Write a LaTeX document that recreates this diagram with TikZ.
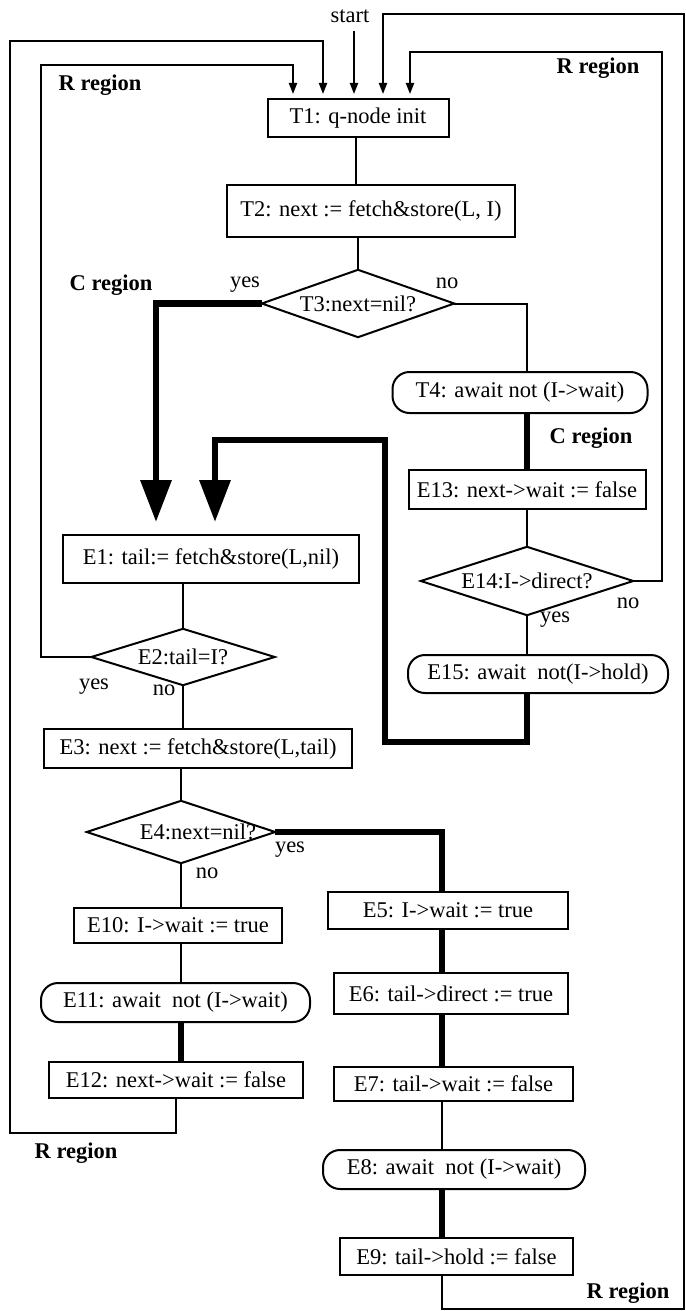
\documentclass[tikz,border=0pt]{standalone}
\usepackage{fontspec}
\setmainfont{Liberation Serif}
\usetikzlibrary{arrows.meta}
\begin{document}
\begin{tikzpicture}[x=1pt,y=-1pt,
  every node/.style={font=\fontsize{22.5}{27}\selectfont, inner sep=0pt},
  box/.style={draw, line width=2pt, rectangle},
  pill/.style={draw, line width=2pt, rectangle, rounded corners=17pt},
  cond/.style={rectangle},
  outline/.style={line width=2pt, line join=miter},
  reg/.style={font=\fontsize{22.5}{27}\selectfont\bfseries},
  link/.style={line width=2pt},
  flow/.style={line width=6.5pt, line join=miter},
  tip/.style={-{Triangle[length=11pt,width=8pt]}},
  bigtip/.style={-{Triangle[length=42pt,width=30pt]}},
]
\useasboundingbox (0,0) rectangle (685,1311);

% column spines
\coordinate (cl) at (181,0);
\coordinate (cm) at (356,0);
\coordinate (cr) at (527,0);
\coordinate (cs) at (442,0);

% thread part
\node[box, minimum width=181pt, minimum height=38pt] (T1) at (358,118) {T1: q-node init};
\node[box, minimum width=288pt, minimum height=52pt] (T2) at (371,211) {T2: next := fetch\&store(L, I)};
\node[cond, minimum width=192pt, minimum height=67pt] (T3) at (358,303.5) {T3:next=nil?};
\draw[outline] (T3.west) -- (T3.north) -- (T3.east) -- (T3.south) -- cycle;
\node[pill, minimum width=255pt, minimum height=41pt] (T4) at (520,392.5) {T4: await not (I->wait)};
\node[box, minimum width=237pt, minimum height=39pt] (E13) at (527,489.5) {E13: next->wait := false};
\node[cond, minimum width=212pt, minimum height=68pt] (E14) at (527,581) {E14:I->direct?};
\draw[outline] (E14.west) -- (E14.north) -- (E14.east) -- (E14.south) -- cycle;
\node[pill, minimum width=260pt, minimum height=38pt] (E15) at (538,674) {E15: await\ \ not(I->hold)};

% left column
\node[box, minimum width=296pt, minimum height=48pt] (E1) at (211,559) {E1: tail:= fetch\&store(L,nil)};
\node[cond, minimum width=183pt, minimum height=56pt] (E2) at (183,657) {E2:tail=I?};
\draw[outline] (E2.west) -- (E2.north) -- (E2.east) -- (E2.south) -- cycle;
\node[box, minimum width=308pt, minimum height=39pt] (E3) at (198,748.5) {E3: next := fetch\&store(L,tail)};
\node[cond, minimum width=188pt, minimum height=62pt] (E4) at (181,832) {\hspace*{34pt}E4:next=nil?};
\draw[outline] (E4.west) -- (E4.north) -- (E4.east) -- (E4.south) -- cycle;
\node[box, minimum width=208pt, minimum height=35pt] (E10) at (178,925.5) {E10: I->wait := true};
\node[pill, minimum width=269pt, minimum height=39pt] (E11) at (175.5,1002.5) {E11: await\ \ not (I->wait)};
\node[box, minimum width=254pt, minimum height=36pt] (E12) at (176,1080) {E12: next->wait := false};

% right column
\node[box, minimum width=240pt, minimum height=37pt] (E5) at (448,910.5) {E5: I->wait := true};
\node[box, minimum width=234pt, minimum height=41pt] (E6) at (451,993.5) {E6: tail->direct := true};
\node[box, minimum width=239pt, minimum height=34pt] (E7) at (453.5,1084) {E7: tail->wait := false};
\node[pill, minimum width=262pt, minimum height=39pt] (E8) at (454,1169.5) {E8: await\ \ not (I->wait)};
\node[box, minimum width=233pt, minimum height=37pt] (E9) at (456.5,1256.5) {E9: tail->hold := false};

% labels
\node (start) at (350,16) {start};
\node[reg] (rTL) at (100,85) {R region};
\node[reg] (rTR) at (598,68) {R region};
\node[reg] (cTL) at (111,285) {C region};
\node[reg] (cTR) at (591,438) {C region};
\node[reg] (rBL) at (76,1153) {R region};
\node[reg] (rBR) at (628,1293) {R region};
\node (y3) at (245,285) {yes};
\node (n3) at (447,283) {no};
\node (n14) at (628,603) {no};
\node (y14) at (555,620) {yes};
\node (y2) at (94,687) {yes};
\node (n2) at (164,690) {no};
\node (y4) at (290,850) {yes};
\node (n4) at (207,873) {no};

% entry points above T1 and E1
\coordinate (in1) at ([xshift=-65pt,yshift=4pt]T1.north);
\coordinate (in2) at ([xshift=-35pt,yshift=4pt]T1.north);
\coordinate (in3) at ([xshift=-4pt,yshift=4pt]T1.north);
\coordinate (in4) at ([xshift=25pt,yshift=4pt]T1.north);
\coordinate (in5) at ([xshift=52pt,yshift=4pt]T1.north);
\coordinate (e1a) at ([xshift=-55pt,yshift=12pt]E1.north);
\coordinate (e1b) at ([xshift=4pt,yshift=12pt]E1.north);

% loop corners
\coordinate (ilc) at (41,65);
\coordinate (olb) at (10,1133);
\coordinate (olt) at (10,41);
\coordinate (irt) at (662,52);
\coordinate (orb) at (684,1309);
\coordinate (ort) at (684,14);
\coordinate (hb) at (385,742);
\coordinate (ht) at (385,440);
\coordinate (e15s) at (E15.south -| E14.south);

% thin connectors
\draw[link] (T1.south -| cm) -- (T2.north -| cm);
\draw[link] (T2.south -| T3.north) -- (T3.north);
\draw[link] (T3.east) -| (T4.north -| cr);
\draw[link] (E13.south) -- (E14.north);
\draw[link] (E14.south) -- (E14.south |- E15.north);
\draw[link] (E1.south -| E2.north) -- (E2.north);
\draw[link] (E2.south) -- (E2.south |- E3.north);
\draw[link] (E3.south -| E4.north) -- (E4.north);
\draw[link] (E4.south) -- (E4.south |- E10.north);
\draw[link] (E10.south -| cl) -- (E11.north -| cl);
\draw[link] (E7.south -| cs) -- (E8.north -| cs);

% thick connectors
\draw[flow] (T4.south -| E13.north) -- (E13.north);
\draw[flow] (E11.south -| cl) -- (E12.north -| cl);
\draw[flow] (E4.east) -| (E5.north -| cs);
\draw[flow] (E5.south -| cs) -- (E6.north -| cs);
\draw[flow] (E6.south -| cs) -- (E7.north -| cs);
\draw[flow] (E8.south -| cs) -- (E9.north -| cs);
\draw[flow, bigtip] (T3.west) -| (e1a);
\draw[flow, bigtip] (e15s) |- (hb) -- (ht) -| (e1b);

% loops back to T1
\draw[link, tip] ([yshift=-8pt]start.south -| in3) -- (in3);
\draw[link, tip] (E2.west) -| (ilc) -| (in1);
\draw[link, tip] (E12.south) |- (olb) -- (olt) -| (in2);
\draw[link, tip] (E14.east) -| (irt) -| (in5);
\draw[link, tip] (E9.south -| cs) |- (orb) -- (ort) -| (in4);
\end{tikzpicture}
\end{document}
